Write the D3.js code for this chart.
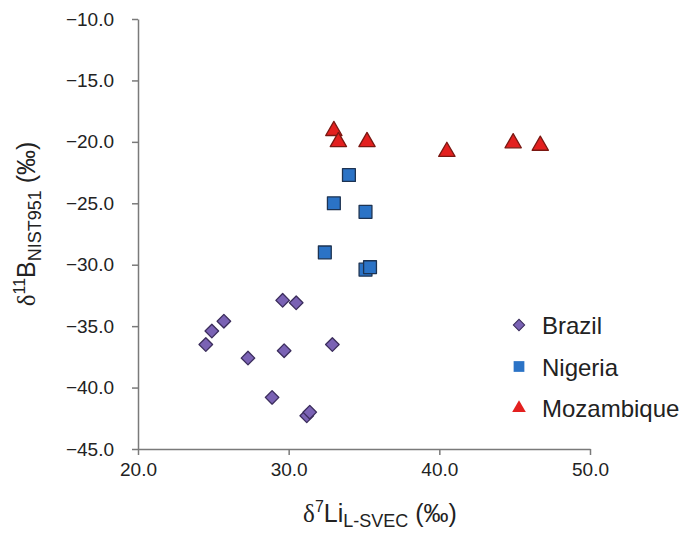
<!DOCTYPE html>
<html>
<head>
<meta charset="utf-8">
<title>delta Li vs delta B</title>
<style>
  body { margin: 0; background: #fff; }
  text { font-family: "Liberation Sans", Arial, sans-serif; fill: #222; }
</style>
</head>
<body>
<script src="https://d3js.org/d3.v7.min.js"></script>
<svg id="mainsvg" width="687" height="535"></svg>
<script>
// data: [d7Li, d11B]
const brazil = [[29.6, -32.9], [30.5, -33.1], [25.7, -34.6], [24.9, -35.4], [24.5, -36.5],
                [27.3, -37.6], [29.7, -37.0], [32.9, -36.5], [28.9, -40.8], [31.2, -42.3], [31.4, -42.0]];
const nigeria = [[34.0, -22.7], [33.0, -25.0], [35.1, -25.7], [32.4, -29.0], [35.1, -30.4], [35.4, -30.2]];
const mozambique = [[33.0, -19.1], [33.3, -20.0], [35.2, -20.0], [40.5, -20.8], [44.9, -20.1], [46.7, -20.3]];
const seriesNames = ["Brazil", "Nigeria", "Mozambique"];
const xTicks = [20, 30, 40, 50];
const yTicks = [-45, -40, -35, -30, -25, -20, -15, -10];

const svg = d3.select('#mainsvg');

const x = d3.scaleLinear().domain([20, 50]).range([138, 590]);
const y = d3.scaleLinear().domain([-45, -10]).range([449, 19]);

const fmt = d3.format(".1f");

// axes
const gy = svg.append("g")
    .attr("transform", "translate(138,0)")
    .call(d3.axisLeft(y).tickValues(yTicks).tickFormat(fmt).tickSize(6).tickSizeOuter(0).tickPadding(4));
const gx = svg.append("g")
    .attr("transform", "translate(0,449)")
    .call(d3.axisBottom(x).tickValues(xTicks).tickFormat(fmt).tickSize(6).tickSizeOuter(0).tickPadding(8));

[gy, gx].forEach(g => {
    g.select(".domain").attr("stroke", "#7a7a7a").attr("stroke-width", 1.5);
    g.selectAll(".tick line").attr("stroke", "#7a7a7a").attr("stroke-width", 1.5);
    g.selectAll(".tick text")
        .attr("font-family", "Liberation Sans, Arial, sans-serif")
        .attr("font-size", 19)
        .attr("fill", "#222");
});
gy.selectAll(".tick text").attr("dx", -14);

// markers
const styles = {
    Brazil: { type: d3.symbolSquare, size: 92, rot: 45, fill: "#7a62b4", stroke: "#3b2d5c" },
    Nigeria: { type: d3.symbolSquare, size: 165, rot: 0, fill: "#2b73c6", stroke: "#1d3352" },
    Mozambique: { type: d3.symbolTriangle, size: 115, rot: 0, fill: "#e3201f", stroke: "#7a1812" }
};
const allData = [brazil, nigeria, mozambique];

seriesNames.forEach((name, i) => {
    const st = styles[name];
    svg.append("g")
        .selectAll("path")
        .data(allData[i])
        .join("path")
        .attr("d", d3.symbol().type(st.type).size(st.size))
        .attr("transform", d => `translate(${x(d[0])},${y(d[1])}) rotate(${st.rot})`)
        .attr("fill", st.fill)
        .attr("stroke", st.stroke)
        .attr("stroke-width", 1.3)
        .attr("stroke-linejoin", "round");
});

// legend
const legend = svg.append("g").attr("transform", "translate(519,325)");
seriesNames.forEach((name, i) => {
    const st = styles[name];
    const row = legend.append("g").attr("transform", `translate(0,${i * 41.5})`);
    row.append("path")
        .attr("d", d3.symbol().type(st.type).size(st.size * 0.7))
        .attr("transform", `rotate(${st.rot})`)
        .attr("fill", st.fill)
        .attr("stroke", st.rot ? st.stroke : "none")
        .attr("stroke-width", 1);
    row.append("text")
        .attr("x", 23)
        .attr("y", 9)
        .attr("font-size", 24)
        .text(name);
});

// axis titles
const xt = svg.append("text")
    .attr("x", 380)
    .attr("y", 522)
    .attr("text-anchor", "middle")
    .attr("font-size", 25);
xt.append("tspan").attr("font-family", "Liberation Serif, serif").text("δ");
xt.append("tspan").attr("font-size", 16).attr("dy", -10).text("7");
xt.append("tspan").attr("dy", 10).text("Li");
xt.append("tspan").attr("font-size", 18).attr("dy", 5).text("L-SVEC");
xt.append("tspan").attr("dy", -5).text(" (‰)");

const yt = svg.append("text")
    .attr("transform", "translate(35,224) rotate(-90)")
    .attr("text-anchor", "middle")
    .attr("font-size", 25);
yt.append("tspan").attr("font-family", "Liberation Serif, serif").text("δ");
yt.append("tspan").attr("font-size", 16).attr("dy", -10).text("11");
yt.append("tspan").attr("dy", 10).text("B");
yt.append("tspan").attr("font-size", 18).attr("dy", 6).text("NIST951");
yt.append("tspan").attr("dy", -6).text(" (‰)");
</script>
</body>
</html>
